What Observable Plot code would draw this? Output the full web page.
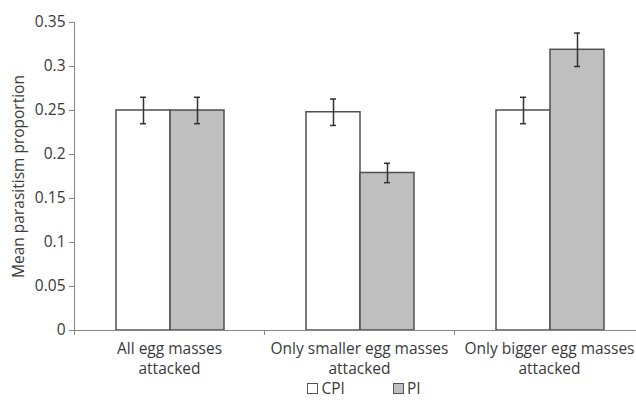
<!DOCTYPE html>
<html>
<head>
<meta charset="utf-8">
<script src="https://cdn.jsdelivr.net/npm/d3@7"></script>
<script src="https://cdn.jsdelivr.net/npm/@observablehq/plot@0.6"></script>
<style>
  body { margin: 0; background: #fff; font-family: "Open Sans", sans-serif; }
  #chart { width: 636px; height: 404px; overflow: hidden; position: relative; }
  #chart svg { overflow: visible; display: block; }
  .legend { display: flex; justify-content: center; gap: 48px; font-size: 15.5px; color: #3a3a3a; height: 20px; line-height: 20px; align-items: center; padding-left: 92px; }
  .legend span.item { display: flex; align-items: center; gap: 3px; }
  .legend span.sw { display: inline-block; width: 9px; height: 9px; border: 1px solid #555; }
</style>
</head>
<body>
<div id="chart"></div>
<script>
const categories = ["All egg masses\nattacked", "Only smaller egg masses\nattacked", "Only bigger egg masses\nattacked"];
const seriesNames = ["CPI", "PI"];
const seriesFills = ["#ffffff", "#bfbfbf"];
const cpiMeans = [0.25, 0.248, 0.25];
const piMeans = [0.25, 0.179, 0.319];
const cpiErrors = [0.015, 0.015, 0.015];
const piErrors = [0.015, 0.011, 0.019];
const yTicks = [0, 0.05, 0.1, 0.15, 0.2, 0.25, 0.3, 0.35];
const yLabel = "Mean parasitism proportion";

const cpi = categories.map((c, i) => ({category: c, value: cpiMeans[i], err: cpiErrors[i]}));
const pi = categories.map((c, i) => ({category: c, value: piMeans[i], err: piErrors[i]}));

const band = 190;
const half = band / 2;
const left = 74;
const textColor = "#3a3a3a";
const axisColor = "#868686";

function errorMarks(data, dx) {
  return [
    Plot.ruleX(data, {x: "category", y1: d => d.value - d.err, y2: d => d.value + d.err, dx, stroke: "#333", strokeWidth: 1.5}),
    Plot.tickY(data, {x: "category", y: d => d.value - d.err, insetLeft: half + dx - 3, insetRight: half - dx - 3, stroke: "#333", strokeWidth: 1.5}),
    Plot.tickY(data, {x: "category", y: d => d.value + d.err, insetLeft: half + dx - 3, insetRight: half - dx - 3, stroke: "#333", strokeWidth: 1.5})
  ];
}

const plot = Plot.plot({
  width: 636,
  height: 378,
  marginTop: 22,
  marginBottom: 48,
  marginLeft: left,
  marginRight: 0,
  style: {fontFamily: "'Open Sans', sans-serif", fontSize: "15.5px", color: textColor, background: "#fff"},
  x: {domain: categories, range: [left, left + 3 * band], padding: 0, label: null},
  y: {domain: [0, 0.35], label: null},
  marks: [
    Plot.barY(cpi, {x: "category", y: "value", fill: seriesFills[0], stroke: "#505050", strokeWidth: 1.5, insetLeft: 42, insetRight: 94}),
    Plot.barY(pi, {x: "category", y: "value", fill: seriesFills[1], stroke: "#505050", strokeWidth: 1.5, insetLeft: 96, insetRight: 40}),
    ...errorMarks(cpi, -26),
    ...errorMarks(pi, 28),
    Plot.ruleY([0], {stroke: axisColor}),
    Plot.ruleX([categories[0]], {x: d => d, dx: -half, y1: 0, y2: 0.35, stroke: axisColor}),
    Plot.axisX({tickSize: 5, tickFormat: () => "", dx: -half, stroke: axisColor}),
    Plot.axisX({tickSize: 0, tickPadding: 9, fontSize: 15.5, lineHeight: 1.29, fill: textColor, label: null}),
    Plot.axisY({ticks: yTicks, tickSize: 5, tickPadding: 4, stroke: axisColor, fill: textColor, fontSize: 15.5,
      tickFormat: d => String(+d.toFixed(2)),
      label: yLabel, labelAnchor: "center", labelOffset: 62, labelArrow: "none"})
  ]
});

const chart = document.getElementById("chart");
chart.appendChild(plot);
const legend = document.createElement("div");
legend.className = "legend";
seriesNames.forEach((s, i) => {
  const item = document.createElement("span");
  item.className = "item";
  const sw = document.createElement("span");
  sw.className = "sw";
  sw.style.background = seriesFills[i];
  item.appendChild(sw);
  item.appendChild(document.createTextNode(s));
  legend.appendChild(item);
});
chart.appendChild(legend);
</script>
</body>
</html>
